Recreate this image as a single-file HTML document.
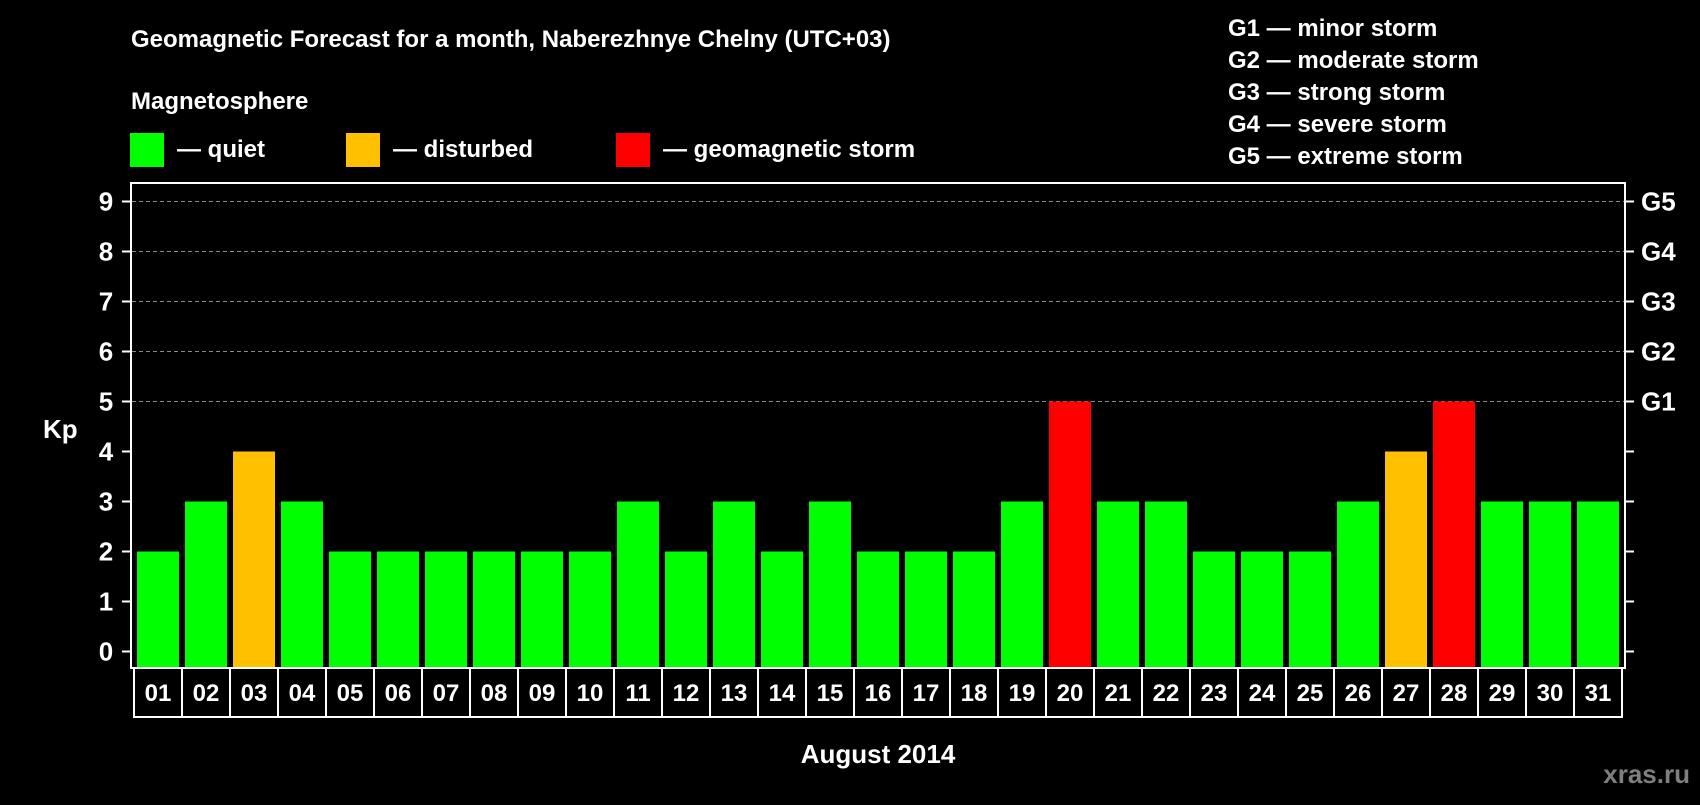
<!DOCTYPE html>
<html><head><meta charset="utf-8"><style>
body{margin:0;background:#000;width:1700px;height:800px;overflow:hidden;font-family:"Liberation Sans",sans-serif;font-weight:bold;color:#fff}
svg text{font-family:"Liberation Sans",sans-serif;font-weight:bold}
</style></head><body>
<svg width="1700" height="800">
<text x="131" y="47" font-size="24" fill="#fff">Geomagnetic Forecast for a month, Naberezhnye Chelny (UTC+03)</text>
<text x="131" y="109" font-size="24" fill="#fff">Magnetosphere</text>
<rect x="130" y="133" width="34" height="34" fill="#00ff00"/>
<text x="177" y="157" font-size="24" fill="#fff">— quiet</text>
<rect x="346" y="133" width="34" height="34" fill="#ffc000"/>
<text x="393" y="157" font-size="24" fill="#fff">— disturbed</text>
<rect x="616" y="133" width="34" height="34" fill="#ff0000"/>
<text x="663" y="157" font-size="24" fill="#fff">— geomagnetic storm</text>
<g font-size="24" fill="#fff">
<text x="1228" y="36">G1 — minor storm</text>
<text x="1228" y="68">G2 — moderate storm</text>
<text x="1228" y="100">G3 — strong storm</text>
<text x="1228" y="132">G4 — severe storm</text>
<text x="1228" y="164">G5 — extreme storm</text>
</g>
<g id="grid"></g>
<g id="bars"></g>
<rect x="131" y="183" width="1494" height="485" fill="none" stroke="#fff" stroke-width="2"/>
<g id="axes"></g>
<text x="43" y="438" font-size="26" fill="#fff">Kp</text>
<text x="878" y="763" font-size="26" fill="#fff" text-anchor="middle">August 2014</text>
<text x="1690" y="783" font-size="26" fill="#7f7f7f" text-anchor="end">xras.ru</text>
</svg>
<script>
const days=["01","02","03","04","05","06","07","08","09","10","11","12","13","14","15","16","17","18","19","20","21","22","23","24","25","26","27","28","29","30","31"];
const kp=[2,3,4,3,2,2,2,2,2,2,3,2,3,2,3,2,2,2,3,5,3,3,2,2,2,3,4,5,3,3,3];
const yTicks=[0,1,2,3,4,5,6,7,8,9];
const gLabels=["","","","","","G1","G2","G3","G4","G5"];
const NS="http://www.w3.org/2000/svg";
const y=v=>651.5-v*50, slot=48, x0=134;
const x=i=>x0+i*slot;
function mk(t,a,p){const e=document.createElementNS(NS,t);for(const k in a)e.setAttribute(k,a[k]);p.appendChild(e);return e;}
const grid=document.getElementById('grid'),bars=document.getElementById('bars'),axes=document.getElementById('axes');
yTicks.forEach((v,i)=>{
 if(v>=5){const l=mk('line',{x1:132,x2:1624,y1:y(v),y2:y(v),stroke:'#888','stroke-dasharray':'4,3','stroke-width':1},grid);
 
 }
 const t1=mk('line',{x1:122,x2:131,y1:y(v),y2:y(v),stroke:'#fff','stroke-width':2},axes);
 
 
 const t2=mk('line',{x1:1625,x2:1634,y1:y(v),y2:y(v),stroke:'#fff','stroke-width':2},axes);
 
 
 const tl=mk('text',{x:106,y:y(v)+9,'font-size':26,fill:'#fff','text-anchor':'middle'},axes);tl.textContent=v;
 
 
 if(gLabels[i]){const g=mk('text',{x:1641,y:y(v)+9,'font-size':26,fill:'#fff'},axes);g.textContent=gLabels[i];
 
 }
});
const col=v=>v>=5?'#ff0000':v>=4?'#ffc000':'#00ff00';
kp.forEach((v,i)=>{
 const b=mk('rect',{x:x(i)+3,y:y(v),width:42,height:y(0)-y(v)+16,fill:col(v)},bars);
 
 
 const c=mk('rect',{x:x(i),y:668,width:slot,height:49,fill:'none',stroke:'#fff','stroke-width':2},axes);
 
 
 const t=mk('text',{x:x(i)+slot/2,y:701,'font-size':24,fill:'#fff','text-anchor':'middle'},axes);t.textContent=days[i];
 
 
});
</script>
</body></html>
